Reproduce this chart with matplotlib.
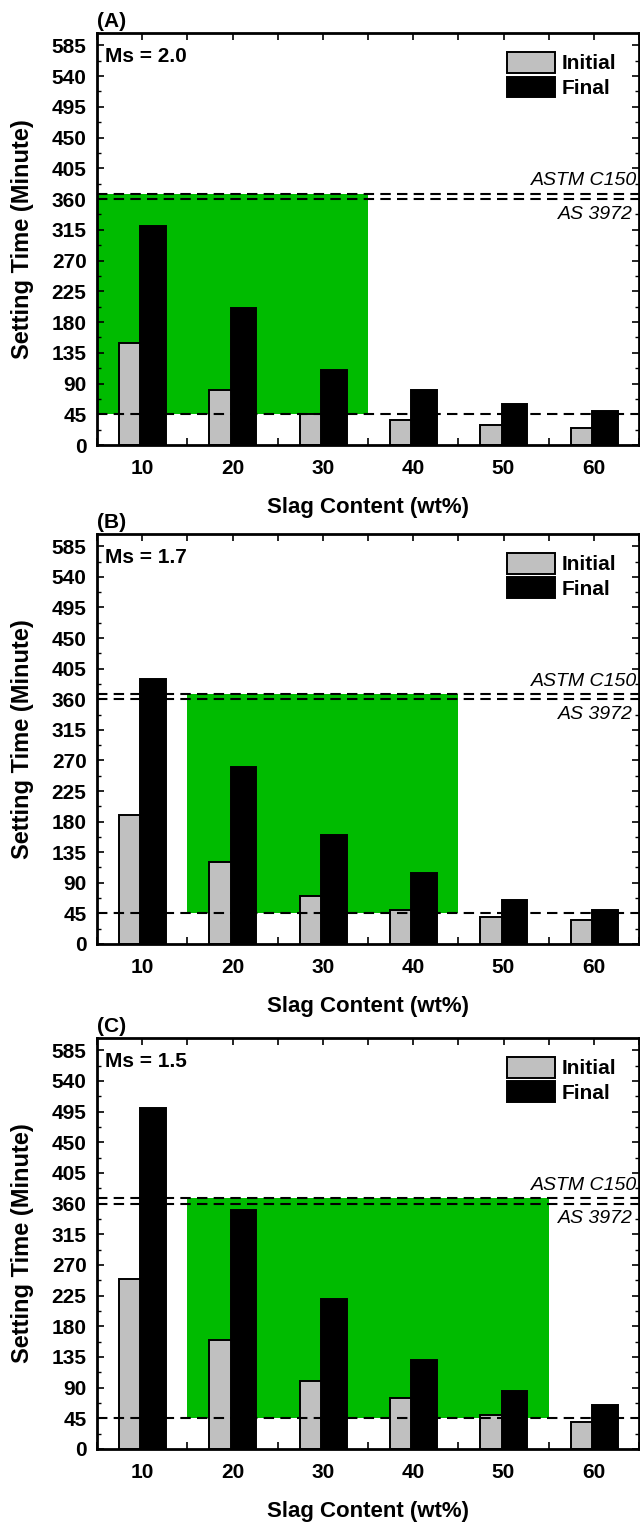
"""Setting time of slag blends for three silicate moduli (Ms)."""

import matplotlib
matplotlib.use("Agg")
import matplotlib.pyplot as plt
from matplotlib.patches import Patch
from matplotlib.ticker import MultipleLocator

plt.rcParams["font.family"] = ["Liberation Sans", "DejaVu Sans"]
plt.rcParams["font.weight"] = "bold"

slag = [10, 20, 30, 40, 50, 60]
panels = ["(A)", "(B)", "(C)"]
moduli = ["Ms = 2.0", "Ms = 1.7", "Ms = 1.5"]
initial = [
    [150, 80, 45, 37, 30, 25],
    [190, 120, 70, 50, 40, 35],
    [250, 160, 100, 75, 50, 40],
]
final = [
    [320, 200, 110, 80, 60, 50],
    [390, 260, 160, 105, 65, 50],
    [500, 350, 220, 130, 85, 65],
]
# slag range that meets both standards, per panel
window = [(5, 35), (15, 45), (15, 55)]
astm_final = 368
as_final = 360
min_initial = 45

GREEN = "#00bb00"
GREY = "#c0c0c0"

fig = plt.figure(figsize=(6.4, 15.22), dpi=100)
rows = [(0.7076, 0.9783), (0.3798, 0.6491), (0.0480, 0.3180)]
left, right = 97 / 640, 639 / 640

for i, (bot, top) in enumerate(rows):
    ax = fig.add_axes([left, bot, right - left, top - bot])
    lo, hi = window[i]
    ax.fill_between([lo, hi], min_initial, astm_final, color=GREEN, lw=0, zorder=1)

    xs = slag
    ax.bar([x - 2.55 for x in xs], initial[i], width=2.6, align="edge",
           color=GREY, edgecolor="black", lw=1.4, zorder=2)
    ax.bar([x - 0.2 for x in xs], final[i], width=2.85, align="edge",
           color="black", edgecolor="black", lw=1.4, zorder=3)

    for yv in (min_initial, as_final, astm_final):
        ax.axhline(yv, color="black", lw=1.5, ls=(0, (5, 3)), zorder=4)

    ax.set_xlim(5, 65)
    ax.set_ylim(0, 603)
    ax.set_xticks(slag)
    ax.set_xticklabels([str(s) for s in slag])
    ax.xaxis.set_minor_locator(MultipleLocator(5))
    ax.yaxis.set_major_locator(MultipleLocator(45))
    ax.yaxis.set_minor_locator(MultipleLocator(22.5))
    ax.tick_params(axis="x", which="both", direction="in", length=5, width=1.2,
                   top=True, bottom=True, pad=10, labelsize=15)
    ax.tick_params(axis="y", which="major", direction="in", length=5, width=1.2,
                   right=True, labelsize=15, pad=7.5)
    ax.tick_params(axis="y", which="minor", direction="in", length=3, width=1.0,
                   right=True)
    for lab in ax.get_xticklabels() + ax.get_yticklabels():
        lab.set_fontweight("bold")
    for sp in ax.spines.values():
        sp.set_linewidth(2)
        sp.set_zorder(5)

    ax.set_xlabel("Slag Content (wt%)", fontsize=16, fontweight="bold")
    ax.xaxis.set_label_coords(0.5, -0.127)
    ax.set_ylabel("Setting Time (Minute)", fontsize=17, fontweight="bold")
    ax.yaxis.set_label_coords(-0.116, 0.5)

    ax.text(0.0, 1.004, panels[i], transform=ax.transAxes, ha="left", va="bottom",
            fontsize=15, fontweight="bold")
    ax.text(0.015, 0.966, moduli[i], transform=ax.transAxes, ha="left", va="top",
            fontsize=15, fontweight="bold")

    ax.text(0.996, astm_final + 12, "ASTM C150", transform=ax.get_yaxis_transform(),
            ha="right", va="baseline", fontsize=14, style="italic", fontweight="normal")
    ax.text(0.988, as_final - 10, "AS 3972", transform=ax.get_yaxis_transform(),
            ha="right", va="top", fontsize=14, style="italic", fontweight="normal")

    handles = [Patch(facecolor=GREY, edgecolor="black", lw=1.4, label="Initial"),
               Patch(facecolor="black", edgecolor="black", lw=1.4, label="Final")]
    ax.legend(handles=handles, loc="upper right", bbox_to_anchor=(0.958, 0.954),
              frameon=False, handlelength=2.3, handleheight=1.15,
              handletextpad=0.33, labelspacing=0.15, borderpad=0, borderaxespad=0,
              prop={"weight": "bold", "size": 15})

fig.savefig("out.png", dpi=100)
